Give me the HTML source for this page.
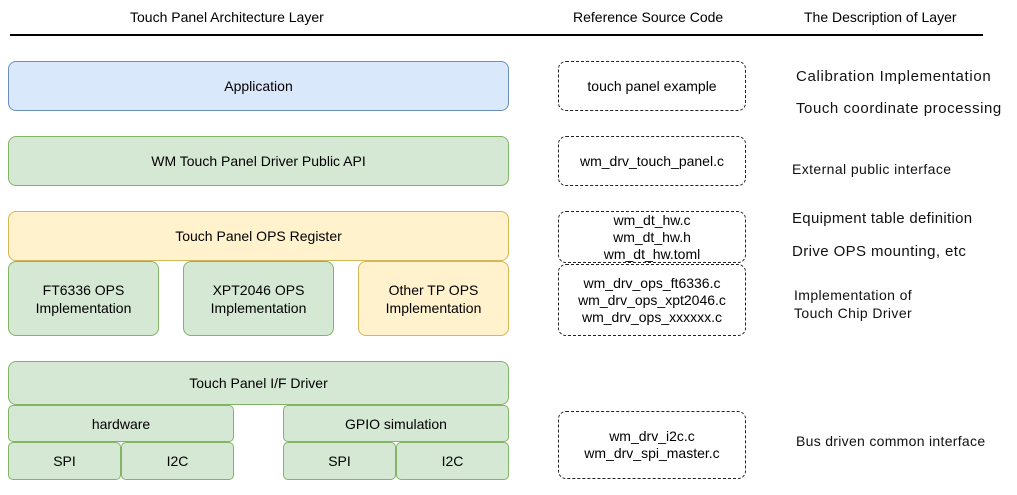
<!DOCTYPE html>
<html><head><style>
body{margin:0;width:1017px;height:495px;background:#fff;position:relative;font-family:"Liberation Sans",sans-serif;color:#000;overflow:hidden}
.b{position:absolute;box-sizing:border-box;display:flex;align-items:center;justify-content:center;text-align:center;font-size:14px;line-height:18px;border-radius:8px}
.g{background:#d5e8d4;border:1px solid #82b366}
.y{background:#fff2cc;border:1px solid #d6b656}
.bl{background:#dae8fc;border:1px solid #6c8ebf;border-radius:8px}
.d{border:1.5px dashed #222;background:#fff;border-radius:8px;font-size:14px;line-height:17px}
.t{position:absolute;font-size:14px;white-space:nowrap}
.r{position:absolute;font-size:15px;white-space:nowrap;color:#111;letter-spacing:0.65px}
</style></head><body>
<div class="t" style="left:130px;top:9px">Touch Panel Architecture Layer</div>
<div class="t" style="left:573px;top:9px">Reference Source Code</div>
<div class="t" style="left:804px;top:9px">The Description of Layer</div>
<div style="position:absolute;left:10px;top:34px;width:973px;height:2px;background:#000"></div>

<div class="b bl" style="left:8px;top:61px;width:501px;height:50px">Application</div>
<div class="b g" style="left:8px;top:136px;width:501px;height:50px">WM Touch Panel Driver Public API</div>
<div class="b y" style="left:8px;top:211px;width:501px;height:50px">Touch Panel OPS Register</div>
<div class="b g" style="left:8px;top:261px;width:151px;height:75px">FT6336 OPS<br>Implementation</div>
<div class="b g" style="left:183px;top:261px;width:151px;height:75px">XPT2046 OPS<br>Implementation</div>
<div class="b y" style="left:358px;top:261px;width:151px;height:75px">Other TP OPS<br>Implementation</div>
<div class="b g" style="left:8px;top:361px;width:501px;height:44px">Touch Panel I/F Driver</div>
<div class="b g" style="left:8px;top:405px;width:226px;height:37px;border-radius:5px">hardware</div>
<div class="b g" style="left:283px;top:405px;width:226px;height:37px;border-radius:5px">GPIO simulation</div>
<div class="b g" style="left:8px;top:442px;width:113px;height:38px;border-radius:5px">SPI</div>
<div class="b g" style="left:121px;top:442px;width:113px;height:38px;border-radius:5px">I2C</div>
<div class="b g" style="left:283px;top:442px;width:113px;height:38px;border-radius:5px">SPI</div>
<div class="b g" style="left:396px;top:442px;width:113px;height:38px;border-radius:5px">I2C</div>

<div class="b d" style="left:558px;top:61px;width:188px;height:50px">touch panel example</div>
<div class="b d" style="left:558px;top:136px;width:188px;height:50px">wm_drv_touch_panel.c</div>
<div class="b d" style="left:558px;top:211px;width:188px;height:52px">wm_dt_hw.c<br>wm_dt_hw.h<br>wm_dt_hw.toml</div>
<div class="b d" style="left:558px;top:264px;width:188px;height:72px">wm_drv_ops_ft6336.c<br>wm_drv_ops_xpt2046.c<br>wm_drv_ops_xxxxxx.c</div>
<div class="b d" style="left:558px;top:411px;width:188px;height:68px">wm_drv_i2c.c<br>wm_drv_spi_master.c</div>

<div class="r" style="left:796px;top:68px">Calibration Implementation</div>
<div class="r" style="left:796px;top:100px;letter-spacing:0.55px">Touch coordinate processing</div>
<div class="r" style="left:792px;top:161px;font-size:14px;letter-spacing:0.4px">External public interface</div>
<div class="r" style="left:792px;top:210px;letter-spacing:0.3px">Equipment table definition</div>
<div class="r" style="left:792px;top:243px;letter-spacing:0.4px">Drive OPS mounting, etc</div>
<div class="r" style="left:794px;top:287px;font-size:14px;letter-spacing:0.4px">Implementation of</div>
<div class="r" style="left:794px;top:305px;font-size:14px;letter-spacing:0.4px">Touch Chip Driver</div>
<div class="r" style="left:796px;top:433px;font-size:14px;letter-spacing:0.3px">Bus driven common interface</div>
</body></html>
